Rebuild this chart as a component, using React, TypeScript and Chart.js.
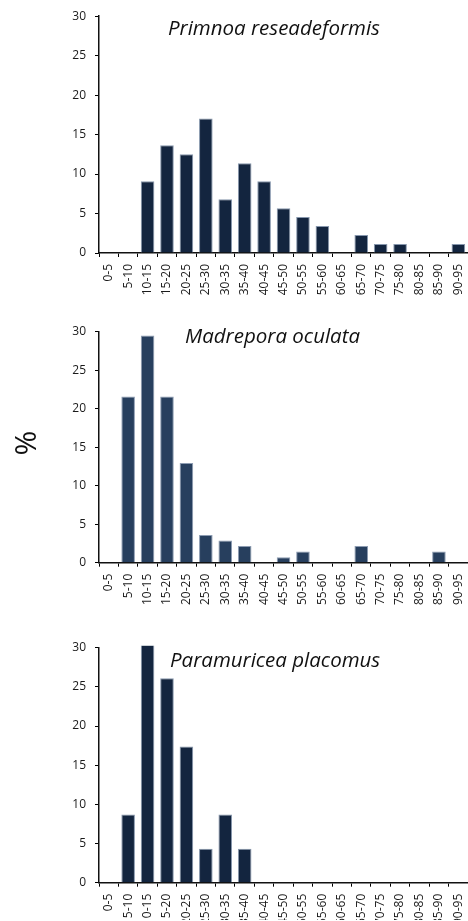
import React, { useEffect, useRef } from "react";
import { Chart, registerables } from "chart.js";

Chart.register(...registerables);

const categories = [
  "0-5", "5-10", "10-15", "15-20", "20-25", "25-30", "30-35", "35-40", "40-45", "45-50",
  "50-55", "55-60", "60-65", "65-70", "70-75", "75-80", "80-85", "85-90", "90-95",
];

const primnoaValues = [0, 0, 9.09, 13.64, 12.5, 17.05, 6.82, 11.36, 9.09, 5.68, 4.55, 3.41, 0, 2.27, 1.14, 1.14, 0, 0, 1.14];
const madreporaValues = [0, 21.58, 29.5, 21.58, 12.95, 3.6, 2.88, 2.16, 0, 0.72, 1.44, 0, 0, 2.16, 0, 0, 0, 1.44, 0];
const paramuriceaValues = [0, 8.7, 30.43, 26.09, 17.39, 4.35, 8.7, 4.35, 0, 0, 0, 0, 0, 0, 0, 0, 0, 0, 0];

const yTicks = [0, 5, 10, 15, 20, 25, 30];

const titles = ["Primnoa reseadeformis", "Madrepora oculata", "Paramuricea placomus"];

const FONT = "'Open Sans', 'DejaVu Sans', sans-serif";
const CANVAS_W = 480;
const CANVAS_H = 310;

type PanelProps = {
  values: number[];
  color: string;
  border: string;
  top: number;
  plotTop: number;
  plotBottom: number;
};

function Panel({ values, color, border, top, plotTop, plotBottom }: PanelProps) {
  const ref = useRef<HTMLCanvasElement | null>(null);
  useEffect(() => {
    if (!ref.current) return;
    const xHeight = top + CANVAS_H - plotBottom;
    const chart = new Chart(ref.current, {
      type: "bar",
      data: {
        labels: categories,
        datasets: [
          {
            data: values,
            backgroundColor: color,
            borderColor: border,
            borderWidth: 1,
            barPercentage: 0.7,
            categoryPercentage: 1,
            clip: { left: 0, top: 2, right: 0, bottom: 0 } as any,
          },
        ],
      },
      options: {
        animation: false,
        responsive: false,
        maintainAspectRatio: false,
        layout: { padding: { top: plotTop - top, right: CANVAS_W - 470.5, left: 0, bottom: 0 } },
        plugins: { legend: { display: false }, tooltip: { enabled: false }, title: { display: false } },
        scales: {
          x: {
            type: "category",
            offset: true,
            grid: { display: true, drawOnChartArea: false, drawTicks: true, tickLength: 4, color: "#000", offset: true },
            border: { display: true, color: "#111", width: 1.5 },
            ticks: {
              autoSkip: false,
              minRotation: 90,
              maxRotation: 90,
              padding: 7,
              color: "#1a1a1a",
              font: { family: FONT, size: 12 },
            },
            afterFit: (s: any) => {
              s.height = xHeight;
            },
          },
          y: {
            min: yTicks[0],
            max: yTicks[yTicks.length - 1],
            afterBuildTicks: (s: any) => {
              s.ticks = yTicks.map((v) => ({ value: v }));
            },
            grid: { display: true, drawOnChartArea: false, drawTicks: true, tickLength: 4, color: "#000" },
            border: { display: true, color: "#111", width: 1.5 },
            ticks: {
              padding: 9,
              color: "#1a1a1a",
              font: { family: FONT, size: 12 },
            },
            afterFit: (s: any) => {
              s.width = 99;
            },
          },
        },
      },
    });
    return () => chart.destroy();
  }, []);
  return (
    <canvas
      ref={ref}
      width={CANVAS_W}
      height={CANVAS_H}
      style={{ position: "absolute", left: 0, top, width: CANVAS_W, height: CANVAS_H }}
    />
  );
}

const titleStyle = (left: number, cy: number): React.CSSProperties => ({
  position: "absolute",
  left,
  top: cy - 14,
  lineHeight: "28px",
  fontFamily: FONT,
  fontStyle: "italic",
  fontSize: 20.5,
  color: "#111",
  whiteSpace: "nowrap",
});

export default function App() {
  return (
    <div
      style={{
        position: "absolute",
        left: 0,
        top: 0,
        width: 468,
        height: 921,
        overflow: "hidden",
        background: "#fff",
      }}
    >
      <Panel values={primnoaValues} color="#13253f" border="#8797ad" top={0} plotTop={15.6} plotBottom={253} />
      <Panel values={madreporaValues} color="#273f5e" border="#8d9cb2" top={300} plotTop={331.7} plotBottom={562.7} />
      <Panel values={paramuriceaValues} color="#13253f" border="#8797ad" top={610} plotTop={647.7} plotBottom={882.7} />
      <div style={titleStyle(168, 26.7)}>{titles[0]}</div>
      <div style={titleStyle(185, 335)}>{titles[1]}</div>
      <div style={titleStyle(170, 659)}>{titles[2]}</div>
      <div
        style={{
          position: "absolute",
          left: 25 - 30,
          top: 443 - 20,
          width: 60,
          height: 40,
          lineHeight: "40px",
          textAlign: "center",
          fontFamily: FONT,
          fontSize: 30,
          color: "#111",
          transform: "rotate(-90deg)",
        }}
      >
        %
      </div>
    </div>
  );
}
